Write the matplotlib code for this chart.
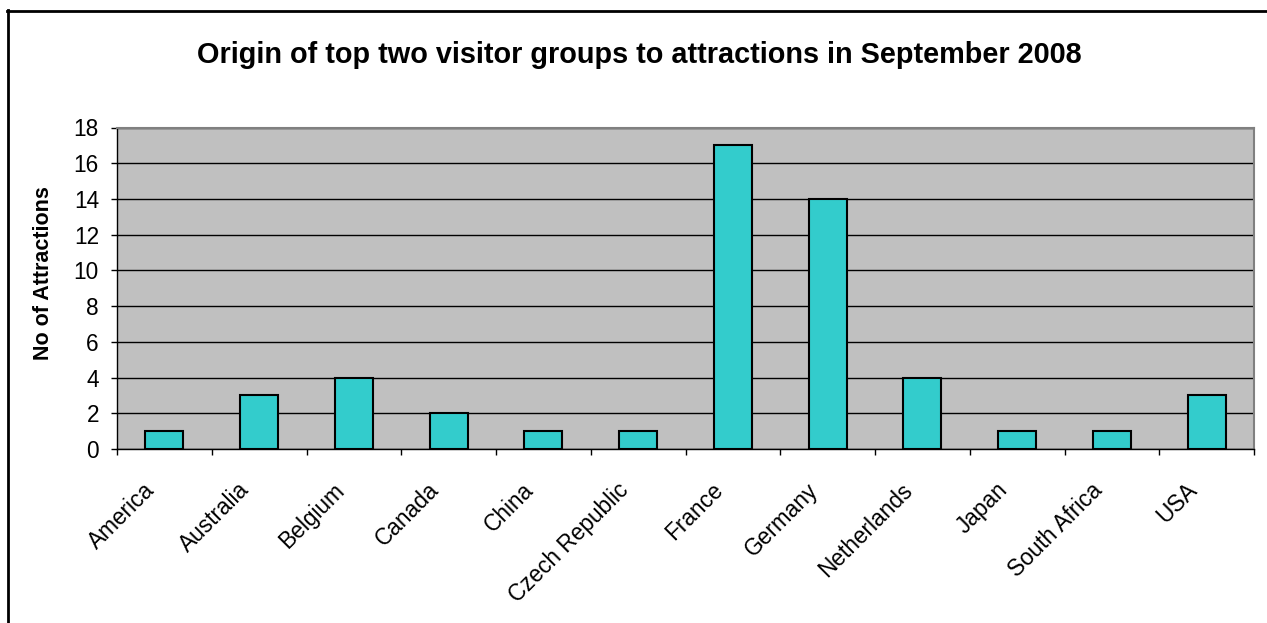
import matplotlib
matplotlib.use("Agg")
import matplotlib.pyplot as plt
from matplotlib.lines import Line2D
from matplotlib.transforms import ScaledTranslation

plt.rcParams["font.family"] = ["Liberation Sans", "DejaVu Sans"]

countries = ["America", "Australia", "Belgium", "Canada", "China", "Czech Republic",
             "France", "Germany", "Netherlands", "Japan", "South Africa", "USA"]
attractions = [1, 3, 4, 2, 1, 1, 17, 14, 4, 1, 1, 3]
y_ticks = list(range(0, 19, 2))

W, H = 1267, 623
fig = plt.figure(figsize=(W / 100, H / 100), dpi=100)
fig.patch.set_facecolor("white")

# outer chart frame (left and top edges visible)
fig.add_artist(Line2D([7.5 / W, 7.5 / W], [0, (H - 10) / H], transform=fig.transFigure,
                      color="black", lw=2))
fig.add_artist(Line2D([7 / W, 1], [(H - 10.5) / H, (H - 10.5) / H], transform=fig.transFigure,
                      color="black", lw=2))

ax = fig.add_axes([117 / W, (H - 449) / H, (1254 - 117) / W, (449 - 127.5) / H])
ax.set_facecolor("#C0C0C0")

x = list(range(len(countries)))
ax.bar(x, attractions, width=0.4, color="#33CCCC", edgecolor="black", linewidth=1.5, zorder=3)

ax.set_xlim(-0.5, len(countries) - 0.5)
ax.set_ylim(0, 18)
ax.set_yticks(y_ticks)
ax.yaxis.grid(True, color="black", linewidth=1, zorder=0)
ax.set_axisbelow(True)

for side in ("top", "right"):
    ax.spines[side].set_color("#808080")
    ax.spines[side].set_linewidth(1.5)
for side in ("left", "bottom"):
    ax.spines[side].set_color("black")
    ax.spines[side].set_linewidth(1)

ax.tick_params(axis="y", direction="out", length=4.5, width=1, pad=8.5, labelsize=16.3)
ax.set_xticks(x)
ax.set_xticks([i - 0.5 for i in range(len(countries) + 1)], minor=True)
ax.tick_params(axis="x", which="major", length=0, pad=27, labelsize=16.3)
ax.tick_params(axis="x", which="minor", direction="out", length=4.5, width=1)
ax.set_xticklabels(countries, rotation=45, ha="right", va="center", rotation_mode="anchor")
shift = ScaledTranslation(-13 / 100, 0, fig.dpi_scale_trans)
for lbl in ax.get_xticklabels():
    lbl.set_transform(lbl.get_transform() + shift)

ax.set_ylabel("No of Attractions", fontsize=15.5, fontweight="bold")
ax.yaxis.set_label_coords(-0.055, 0.547)

fig.text(639 / W, (H - 55) / H, "Origin of top two visitor groups to attractions in September 2008",
         ha="center", va="center", fontsize=20.8, fontweight="bold")

fig.savefig("out.png", dpi=100)
